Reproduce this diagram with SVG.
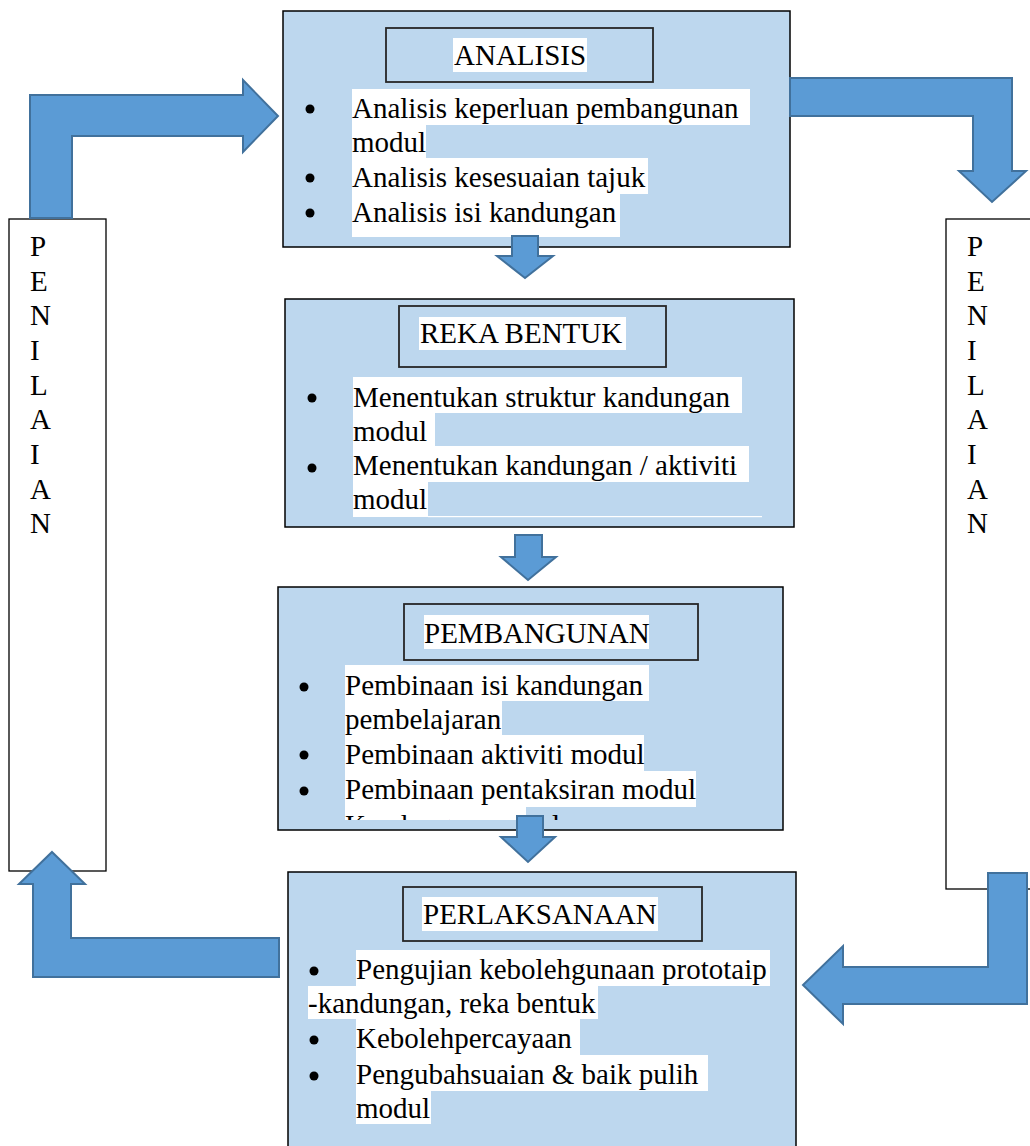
<svg xmlns="http://www.w3.org/2000/svg" width="1030" height="1146" viewBox="0 0 1030 1146">
<style>
.box{fill:#BDD7EE;stroke:#000;stroke-width:1.5}
.tbox{fill:none;stroke:#262626;stroke-width:1.8}
.side{fill:#fff;stroke:#000;stroke-width:1.3}
.bg{fill:#fff}
.t{font-family:"Liberation Serif","Times New Roman",serif;font-size:29px;fill:#000}
.dot{fill:#000}
.arr{fill:#5B9BD5;stroke:#41719C;stroke-width:2;stroke-linejoin:miter}
</style>
<defs>
<clipPath id="clipK"><rect x="270" y="800" width="520" height="20"/></clipPath>
</defs>
<rect width="1030" height="1146" fill="#fff"/>

<g id="penilaian-left">
<rect class="side" x="9" y="219" width="97" height="652"/>
<text class="t" x="30" y="256">P</text>
<text class="t" x="30" y="291">E</text>
<text class="t" x="30" y="325">N</text>
<text class="t" x="30" y="360">I</text>
<text class="t" x="30" y="395">L</text>
<text class="t" x="30" y="429">A</text>
<text class="t" x="30" y="464">I</text>
<text class="t" x="30" y="499">A</text>
<text class="t" x="30" y="533">N</text>
</g>

<g id="penilaian-right">
<rect class="side" x="946" y="219" width="100" height="670"/>
<text class="t" x="967" y="256">P</text>
<text class="t" x="967" y="291">E</text>
<text class="t" x="967" y="325">N</text>
<text class="t" x="967" y="360">I</text>
<text class="t" x="967" y="395">L</text>
<text class="t" x="967" y="429">A</text>
<text class="t" x="967" y="464">I</text>
<text class="t" x="967" y="499">A</text>
<text class="t" x="967" y="533">N</text>
</g>

<g id="analisis">
<rect class="box" x="283" y="11" width="507" height="236"/>
<rect class="tbox" x="386" y="28" width="267" height="54"/>
<rect class="bg" x="453" y="38" width="134" height="34"/>
<text class="t" x="454" y="65">ANALISIS</text>
<rect class="bg" x="352" y="89" width="398" height="36"/>
<rect class="bg" x="352" y="125" width="74" height="33"/>
<rect class="bg" x="352" y="158" width="296" height="36"/>
<rect class="bg" x="352" y="194" width="268" height="43"/>
<circle class="dot" cx="310" cy="109" r="4.5"/>
<circle class="dot" cx="310" cy="178" r="4.5"/>
<circle class="dot" cx="310" cy="213" r="4.5"/>
<text class="t" x="352" y="118">Analisis keperluan pembangunan</text>
<text class="t" x="352" y="152">modul</text>
<text class="t" x="352" y="187">Analisis kesesuaian tajuk</text>
<text class="t" x="352" y="222">Analisis isi kandungan</text>
</g>

<g id="reka-bentuk">
<rect class="box" x="285" y="299" width="509" height="228"/>
<rect class="tbox" x="399" y="306" width="267" height="61"/>
<rect class="bg" x="419" y="317" width="207" height="33"/>
<text class="t" x="420" y="343">REKA BENTUK</text>
<rect class="bg" x="353" y="377" width="389" height="36"/>
<rect class="bg" x="353" y="413" width="82" height="33"/>
<rect class="bg" x="353" y="446" width="396" height="36"/>
<rect class="bg" x="353" y="482" width="75" height="35"/>
<rect class="bg" x="428" y="516" width="334" height="1.2"/>
<circle class="dot" cx="312" cy="398" r="4.5"/>
<circle class="dot" cx="312" cy="468" r="4.5"/>
<text class="t" x="353" y="407">Menentukan struktur kandungan</text>
<text class="t" x="353" y="441">modul</text>
<text class="t" x="353" y="475">Menentukan kandungan / aktiviti</text>
<text class="t" x="353" y="509">modul</text>
</g>

<g id="pembangunan">
<rect class="box" x="278" y="587" width="505" height="243"/>
<rect class="tbox" x="404" y="604" width="294" height="56"/>
<rect class="bg" x="424" y="615" width="225" height="34"/>
<text class="t" x="424" y="643">PEMBANGUNAN</text>
<rect class="bg" x="345" y="665" width="304" height="36"/>
<rect class="bg" x="345" y="701" width="157" height="34"/>
<rect class="bg" x="345" y="735" width="299" height="36"/>
<rect class="bg" x="345" y="771" width="351" height="36"/>
<rect class="bg" x="345" y="807" width="181" height="13"/>
<circle class="dot" cx="304" cy="687" r="4.5"/>
<circle class="dot" cx="304" cy="755" r="4.5"/>
<circle class="dot" cx="304" cy="791" r="4.5"/>
<text class="t" x="345" y="695">Pembinaan isi kandungan</text>
<text class="t" x="345" y="729">pembelajaran</text>
<text class="t" x="345" y="764">Pembinaan aktiviti modul</text>
<text class="t" x="345" y="799">Pembinaan pentaksiran modul</text>
<text class="t" x="345" y="835" clip-path="url(#clipK)">Kandungan modul</text>
</g>

<g id="perlaksanaan">
<rect class="box" x="288" y="872" width="508" height="290"/>
<rect class="tbox" x="403" y="887" width="299" height="54"/>
<rect class="bg" x="422" y="897" width="236" height="34"/>
<text class="t" x="423" y="924">PERLAKSANAAN</text>
<rect class="bg" x="356" y="950" width="414" height="36"/>
<rect class="bg" x="308" y="986" width="290" height="33"/>
<rect class="bg" x="356" y="1019" width="224" height="36"/>
<rect class="bg" x="356" y="1055" width="352" height="36"/>
<rect class="bg" x="356" y="1091" width="75" height="33"/>
<circle class="dot" cx="314" cy="971" r="4.5"/>
<circle class="dot" cx="314" cy="1040" r="4.5"/>
<circle class="dot" cx="314" cy="1076" r="4.5"/>
<text class="t" x="356" y="979">Pengujian kebolehgunaan prototaip</text>
<text class="t" x="308" y="1013">-kandungan, reka bentuk</text>
<text class="t" x="356" y="1048">Kebolehpercayaan</text>
<text class="t" x="356" y="1084">Pengubahsuaian &amp; baik pulih</text>
<text class="t" x="356" y="1118">modul</text>
</g>

<g id="connectors">
<polygon class="arr" points="30,218 30,95 243,95 243,80 278,116 243,152 243,136 72,136 72,218"/>
<polygon class="arr" points="790,78 1012,78 1012,171 1026,171 992,202 959,171 973,171 973,116 790,116"/>
<polygon class="arr" points="52,852 85,884 71,884 71,938 279,938 279,977 33,977 33,884 19,884"/>
<polygon class="arr" points="988,873 1027,873 1027,1004 843,1004 843,1024 803,985 843,946 843,967 988,967"/>
<polygon class="arr" points="512,236 538,236 538,256 553,256 525,278 497,256 512,256"/>
<polygon class="arr" points="515,535 542,535 542,557 556,557 528,580 501,557 515,557"/>
<polygon class="arr" points="517,816 543,816 543,837 555,837 528,862 501,837 517,837"/>
</g>
</svg>
